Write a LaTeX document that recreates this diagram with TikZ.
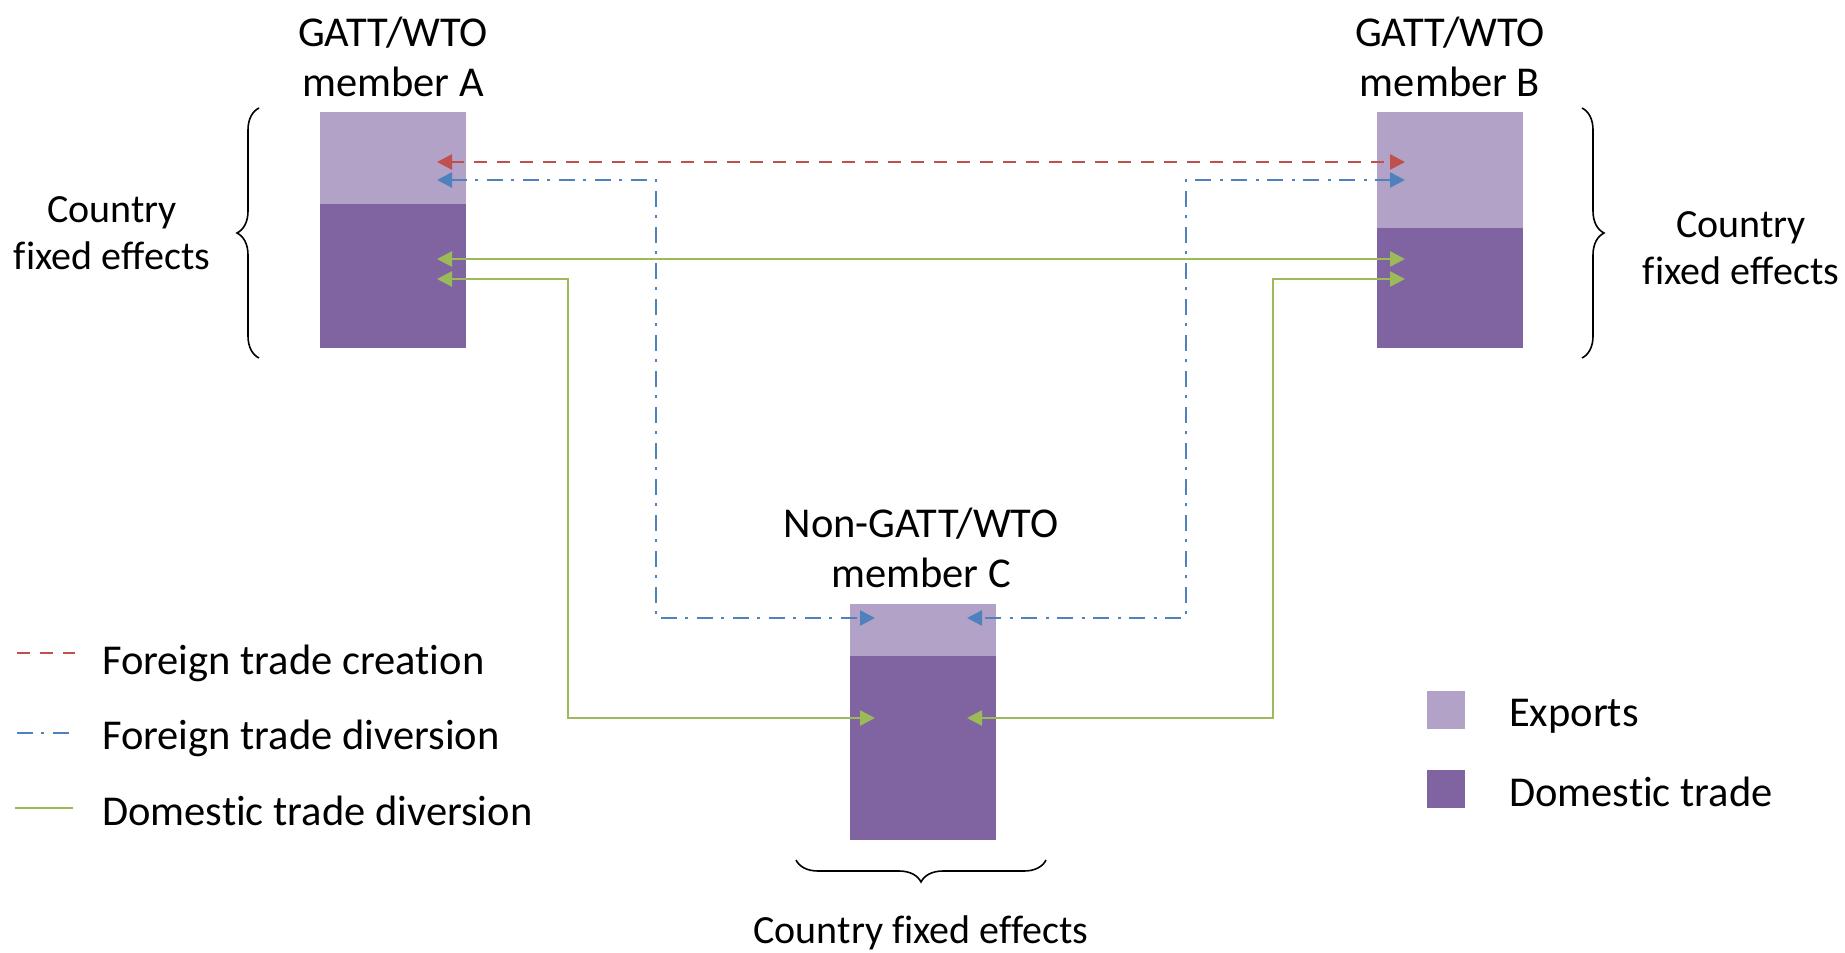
\documentclass[tikz,border=0pt]{standalone}
\usepackage{fontspec}
\setmainfont{Carlito}[Ligatures = NoCommon]
\usetikzlibrary{arrows.meta, decorations.pathreplacing}
\definecolor{exportcol}{HTML}{B3A2C7}
\definecolor{domcol}{HTML}{8064A2}
\definecolor{creacol}{HTML}{C0504D}
\definecolor{divcol}{HTML}{4F81BD}
\definecolor{domdivcol}{HTML}{9BBB59}
\tikzset{exports/.style = {shape = rectangle, fill = exportcol, minimum width = 146pt, inner sep = 0pt, anchor = north}}
\tikzset{domestic/.style = {shape = rectangle, fill = domcol, minimum width = 146pt, inner sep = 0pt, anchor = north}}
\tikzset{txt/.style = {align = center, inner sep = 0pt, font = \fontsize{42.5}{50}\selectfont}}
\tikzset{fetxt/.style = {align = center, inner sep = 0pt, font = \fontsize{40}{47}\selectfont}}
\tikzset{creation/.style = {draw = creacol, line width = 2.6pt, dash pattern = on 13pt off 10pt}}
\tikzset{diversion/.style = {draw = divcol, line width = 2.6pt, dash pattern = on 16pt off 8pt on 3pt off 9pt}}
\tikzset{domdiv/.style = {draw = domdivcol, line width = 2.6pt}}
\tikzset{tips/.style = {<->, > = {Triangle[length = 15pt, width = 15pt]}}}
\tikzset{fe/.style = {decorate, decoration = {brace, amplitude = 22pt}, line width = 1.6pt}}

\begin{document}
\begin{tikzpicture}[x = 1pt, y = -1pt]
				\useasboundingbox (0, 0) rectangle (1845, 953);

				% countries
				\node[exports, minimum height = 92pt] (expA) at (393, 112) {};
				\node[domestic, minimum height = 144pt] (domA) at (393, 204) {};
				\node[exports, minimum height = 116pt] (expB) at (1450, 112) {};
				\node[domestic, minimum height = 120pt] (domB) at (1450, 228) {};
				\node[exports, minimum height = 52pt] (expC) at (923, 604) {};
				\node[domestic, minimum height = 184pt] (domC) at (923, 656) {};

				\node[txt] (nameA) at (393, 57) {GATT/WTO\\member A};
				\node[txt] (nameB) at (1450, 57) {GATT/WTO\\member B};
				\node[txt] (nameC) at (921, 548) {Non-GATT/WTO\\member C};

				% fixed effects
				\draw[fe] (259, 358) -- (259, 108);
				\draw[fe] (1582, 108) -- (1582, 358);
				\draw[fe] (1046, 860) -- (796, 860);
				\node[fetxt] (feA) at (112, 233) {Country\\fixed effects};
				\node[fetxt] (feB) at (1741, 248) {Country\\fixed effects};
				\node[fetxt] (feC) at (921, 933) {Country fixed effects};

				% flows
				\coordinate (aR) at (437, 162);
				\coordinate (bR) at (1405, 162);
				\coordinate (aB) at (437, 180);
				\coordinate (bB) at (1405, 180);
				\coordinate (aG1) at (437, 259);
				\coordinate (bG1) at (1405, 259);
				\coordinate (aG2) at (437, 279);
				\coordinate (bG2) at (1405, 279);
				\coordinate (cBl) at (875, 618);
				\coordinate (cBr) at (967, 618);
				\coordinate (cGl) at (875, 718);
				\coordinate (cGr) at (967, 718);
				\coordinate (kAB) at (656, 618);
				\coordinate (kBB) at (1186, 618);
				\coordinate (kAG) at (568, 718);
				\coordinate (kBG) at (1273, 718);

				\draw[creation, tips] (aR) to (bR);
				\draw[diversion, tips] (aB) -| (kAB) -- (cBl);
				\draw[diversion, tips] (bB) -| (kBB) -- (cBr);
				\draw[domdiv, tips] (aG1) to (bG1);
				\draw[domdiv, tips] (aG2) -| (kAG) -- (cGl);
				\draw[domdiv, tips] (bG2) -| (kBG) -- (cGr);

				% legend
				\coordinate (l1a) at (17, 653);
				\coordinate (l1b) at (75, 653);
				\coordinate (l2a) at (17, 733);
				\coordinate (l2b) at (75, 733);
				\coordinate (l3a) at (15, 808);
				\coordinate (l3b) at (73, 808);
				\draw[creation] (l1a) to (l1b);
				\draw[diversion] (l2a) to (l2b);
				\draw[domdiv] (l3a) to (l3b);
				\node[txt, anchor = west] (t1) at (102, 663) {Foreign trade creation};
				\node[txt, anchor = west] (t2) at (102, 738) {Foreign trade diversion};
				\node[txt, anchor = west] (t3) at (102, 811) {Domestic trade diversion};

				\node[fill = exportcol, minimum size = 38pt, inner sep = 0pt] (sq1) at (1446, 710) {};
				\node[fill = domcol, minimum size = 38pt, inner sep = 0pt] (sq2) at (1446, 789) {};
				\node[txt, anchor = west] (t4) at (1509, 716) {Exports};
				\node[txt, anchor = west] (t5) at (1509, 792) {Domestic trade};
			\end{tikzpicture}
\end{document}
